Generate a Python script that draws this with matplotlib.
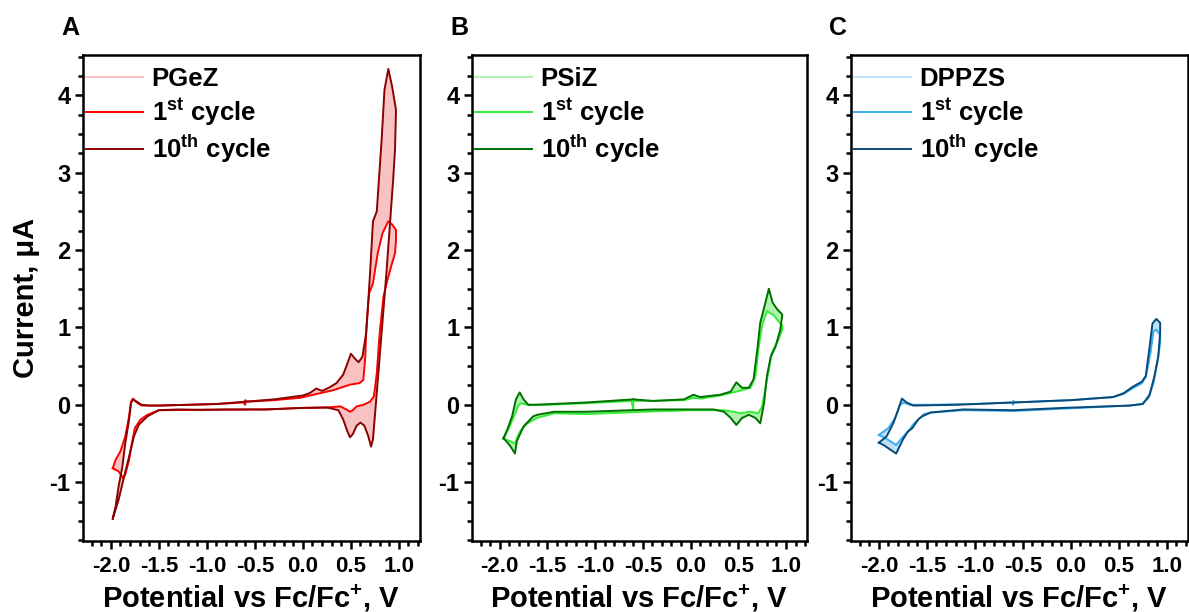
import numpy as np
import matplotlib
matplotlib.use("Agg")
import matplotlib.pyplot as plt
from matplotlib.path import Path
from matplotlib.patches import PathPatch
from matplotlib.lines import Line2D
from matplotlib.ticker import MultipleLocator

plt.rcParams['font.family'] = ['Liberation Sans', 'DejaVu Sans']
plt.rcParams['font.weight'] = 'bold'
plt.rcParams['axes.labelweight'] = 'bold'
plt.rcParams['mathtext.fontset'] = 'custom'
plt.rcParams['mathtext.rm'] = 'Liberation Sans:bold'
plt.rcParams['mathtext.bf'] = 'Liberation Sans:bold'
plt.rcParams['mathtext.it'] = 'Liberation Sans:bold'
plt.rcParams['axes.unicode_minus'] = False

# ---- PGeZ (panel A): loops start at the negative turning point ----
pgez_c1_x = [-1.98, -1.95, -1.90, -1.85, -1.81, -1.79, -1.77, -1.73, -1.68, -1.50, -1.20, -0.90,
             -0.62, -0.60, -0.60, -0.58, -0.30, -0.03, 0.32, 0.49, 0.59, 0.63, 0.65, 0.66, 0.69,
             0.73, 0.78, 0.83, 0.89, 0.93, 0.97,
             0.97, 0.96, 0.92, 0.88, 0.84, 0.80, 0.77, 0.74, 0.70, 0.63, 0.56, 0.52, 0.49, 0.46,
             0.39, 0.25, 0.00, -0.38, -1.07, -1.50, -1.62, -1.69, -1.75, -1.78, -1.81, -1.85,
             -1.87, -1.92, -1.98]
pgez_c1_y = [-0.82, -0.71, -0.60, -0.41, -0.15, 0.04, 0.08, 0.03, -0.01, -0.01, 0.00, 0.01,
             0.03, 0.00, 0.06, 0.04, 0.06, 0.09, 0.19, 0.26, 0.28, 0.32, 0.62, 0.97, 1.44,
             1.57, 1.96, 2.22, 2.37, 2.33, 2.26,
             2.13, 1.96, 1.79, 1.61, 1.40, 0.93, 0.41, 0.11, 0.04, 0.00, -0.02, -0.07, -0.09, -0.065,
             -0.02, -0.035, -0.04, -0.06, -0.065, -0.07, -0.13, -0.19, -0.30, -0.49, -0.71, -0.90,
             -0.95, -0.86, -0.82]
pgez_c10_x = [-1.98, -1.95, -1.92, -1.88, -1.85, -1.81, -1.79, -1.77, -1.73, -1.68, -1.60, -1.50,
              -1.20, -0.90, -0.60, -0.30, 0.00, 0.07, 0.14, 0.20, 0.27, 0.35, 0.42, 0.46, 0.50,
              0.54, 0.58, 0.62, 0.66, 0.70, 0.73, 0.77, 0.82, 0.85, 0.89, 0.93, 0.97,
              0.96, 0.94, 0.92, 0.87, 0.82, 0.77, 0.73, 0.71, 0.68, 0.64, 0.60, 0.56,
              0.52, 0.49, 0.46, 0.42, 0.37, 0.25, 0.00, -0.38, -0.80, -1.07, -1.30, -1.50, -1.62,
              -1.71, -1.76, -1.81, -1.87, -1.92, -1.98]
pgez_c10_y = [-1.47, -1.31, -1.06, -0.80, -0.50, -0.19, 0.02, 0.07, 0.04, 0.00, -0.01, -0.01,
              0.00, 0.01, 0.04, 0.07, 0.12, 0.15, 0.21, 0.18, 0.22, 0.28, 0.39, 0.52, 0.66,
              0.60, 0.55, 0.62, 0.93, 1.70, 2.37, 2.50, 3.42, 4.07, 4.34, 4.11, 3.81,
              3.30, 2.90, 2.56, 1.70, 0.93, 0.16, -0.45, -0.54, -0.40, -0.27, -0.23, -0.27,
              -0.38, -0.42, -0.33, -0.19, -0.07, -0.035, -0.04, -0.06, -0.06, -0.065, -0.06, -0.07, -0.15,
              -0.26, -0.41, -0.67, -0.97, -1.23, -1.47]

# ---- PSiZ (panel B) ----
psiz_c1_x = [-1.96, -1.91, -1.85, -1.81, -1.78, -1.71, -1.50, -1.10, -0.62, -0.60, -0.60, -0.58,
             -0.40, -0.07, 0.03, 0.10, 0.31, 0.48, 0.63, 0.68, 0.71, 0.75, 0.80, 0.87, 0.92, 0.96,
             0.96, 0.92, 0.85, 0.82, 0.78, 0.75, 0.71, 0.63, 0.52, 0.45, 0.35, 0.00, -0.50, -1.09,
             -1.43, -1.61, -1.71, -1.78, -1.82, -1.84, -1.89, -1.96]
psiz_c1_y = [-0.44, -0.32, -0.15, -0.02, 0.02, 0.00, 0.00, 0.02, 0.05, -0.06, 0.08, 0.05,
             0.05, 0.06, 0.09, 0.08, 0.12, 0.17, 0.22, 0.37, 0.71, 1.03, 1.21, 1.16, 1.08, 1.03,
             0.97, 0.84, 0.67, 0.45, 0.19, -0.02, -0.11, -0.09, -0.11, -0.09, -0.07, -0.07, -0.09, -0.12,
             -0.11, -0.17, -0.24, -0.33, -0.43, -0.50, -0.47, -0.44]
psiz_c10_x = [-1.96, -1.92, -1.87, -1.83, -1.79, -1.75, -1.70, -1.63, -1.09, -0.60, -0.39, -0.07,
              0.03, 0.10, 0.31, 0.42, 0.48, 0.54, 0.61, 0.66, 0.70, 0.73, 0.77, 0.82, 0.86, 0.91, 0.96,
              0.96, 0.94, 0.89, 0.84, 0.80, 0.77, 0.73, 0.68, 0.61, 0.54, 0.48, 0.42, 0.35, 0.24,
              -0.39, -1.09, -1.43, -1.61, -1.65, -1.75, -1.82, -1.84, -1.89, -1.96]
psiz_c10_y = [-0.43, -0.32, -0.15, 0.07, 0.16, 0.07, 0.00, 0.00, 0.03, 0.07, 0.05, 0.07,
              0.13, 0.10, 0.13, 0.17, 0.29, 0.22, 0.22, 0.33, 0.72, 1.06, 1.25, 1.50, 1.32, 1.23, 1.17,
              1.15, 0.97, 0.75, 0.62, 0.37, 0.02, -0.24, -0.17, -0.13, -0.17, -0.26, -0.17, -0.09, -0.06,
              -0.06, -0.09, -0.09, -0.13, -0.15, -0.28, -0.47, -0.63, -0.53, -0.43]

# ---- DPPZS (panel C) ----
dppzs_c1_x = [-2.00, -1.90, -1.83, -1.78, -1.74, -1.68, -1.50, -1.00, -0.62, -0.60, -0.60, -0.58,
              0.00, 0.44, 0.55, 0.64, 0.74, 0.78, 0.83, 0.86, 0.89, 0.93,
              0.93, 0.90, 0.86, 0.81, 0.74, 0.61, -0.08, -0.60, -1.12, -1.46, -1.53, -1.64, -1.68,
              -1.76, -1.82, -1.88, -1.95, -2.00]
dppzs_c1_y = [-0.39, -0.30, -0.17, 0.00, 0.03, 0.00, 0.00, 0.01, 0.03, 0.00, 0.05, 0.03,
              0.06, 0.10, 0.14, 0.21, 0.28, 0.36, 0.67, 0.95, 0.97, 0.90,
              0.80, 0.54, 0.28, 0.09, 0.01, -0.01, -0.05, -0.08, -0.07, -0.10, -0.12, -0.25, -0.32,
              -0.43, -0.52, -0.47, -0.42, -0.39]
dppzs_c10_x = [-2.00, -1.92, -1.85, -1.80, -1.76, -1.71, -1.64, -1.20, -0.60, 0.00, 0.44, 0.55,
               0.64, 0.74, 0.78, 0.82, 0.85, 0.89, 0.93,
               0.93, 0.91, 0.87, 0.82, 0.75, 0.61, -0.08, -0.60, -1.12, -1.46, -1.55, -1.59, -1.65,
               -1.70, -1.75, -1.80, -1.82, -1.88, -1.95, -2.00]
dppzs_c10_y = [-0.49, -0.41, -0.24, -0.07, 0.08, 0.03, -0.01, 0.00, 0.03, 0.06, 0.10, 0.15,
               0.23, 0.30, 0.37, 0.75, 1.05, 1.11, 1.06,
               0.93, 0.62, 0.37, 0.13, 0.01, -0.01, -0.04, -0.07, -0.06, -0.10, -0.15, -0.19, -0.30,
               -0.35, -0.45, -0.58, -0.63, -0.58, -0.52, -0.49]

panels = [
    ("A", "PGeZ", pgez_c1_x, pgez_c1_y, pgez_c10_x, pgez_c10_y, "#f9c2c2", "#ff0000", "#8b0000"),
    ("B", "PSiZ", psiz_c1_x, psiz_c1_y, psiz_c10_x, psiz_c10_y, "#b0f2b0", "#33ee33", "#007000"),
    ("C", "DPPZS", dppzs_c1_x, dppzs_c1_y, dppzs_c10_x, dppzs_c10_y, "#bfe1f6", "#3aaef0", "#0b4a78"),
]

W, H = 1189, 612
fig = plt.figure(figsize=(W / 100, H / 100), dpi=100)
lefts = [83, 472, 851]
widths = [337, 335, 337]
top, bottom = 55, 541


def loop_path(x1, y1, x10, y10):
    # band between first and tenth cycle (opposite orientation -> only the gap is filled)
    v10 = np.column_stack([x10, y10])
    v1 = np.column_stack([x1, y1])[::-1]
    verts = np.vstack([v10, v10[:1], v1, v1[:1]])
    codes = ([Path.MOVETO] + [Path.LINETO] * (len(v10) - 1) + [Path.CLOSEPOLY] +
             [Path.MOVETO] + [Path.LINETO] * (len(v1) - 1) + [Path.CLOSEPOLY])
    return Path(verts, codes)


for i, (letter, name, x1, y1, x10, y10, c_light, c1, c10) in enumerate(panels):
    ax = fig.add_axes([lefts[i] / W, (H - bottom) / H, widths[i] / W, (bottom - top) / H])
    ax.add_patch(PathPatch(loop_path(x1, y1, x10, y10), facecolor=c_light,
                           edgecolor=c_light, lw=0.6, zorder=1))
    ax.plot(x1, y1, color=c1, lw=1.4, zorder=3)
    ax.plot(x10, y10, color=c10, lw=1.4, zorder=4)

    ax.set_xlim(-2.29, 1.22)
    ax.set_ylim(-1.76, 4.52)
    ax.xaxis.set_major_locator(MultipleLocator(0.5))
    ax.xaxis.set_minor_locator(MultipleLocator(0.1))
    ax.yaxis.set_major_locator(MultipleLocator(1))
    ax.yaxis.set_minor_locator(MultipleLocator(0.25))
    ax.tick_params(which='both', direction='out', width=1.8, top=False, right=False)
    ax.tick_params(which='major', length=6)
    ax.tick_params(which='minor', length=3.5)
    ax.tick_params(axis='y', labelsize=17, pad=3)
    ax.tick_params(axis='x', labelsize=16, pad=5)
    for s in ax.spines.values():
        s.set_linewidth(1.8)
    ax.set_xlabel("Potential vs Fc/Fc$^{+}$, V", fontsize=21, labelpad=4)
    if i == 0:
        ax.set_ylabel("Current, \u03bcA", fontsize=21, labelpad=7)

    handles = [Line2D([], [], color=c_light, lw=1.4),
               Line2D([], [], color=c1, lw=1.4),
               Line2D([], [], color=c10, lw=1.4)]
    labels = [name, "1$^{st}$ cycle", "10$^{th}$ cycle"]
    ax.legend(handles, labels, loc='upper left', bbox_to_anchor=(0.0, 1.0 - 9 / 486),
              frameon=False, borderaxespad=0.0, borderpad=0.12, handlelength=2.2,
              handletextpad=0.35, labelspacing=0.2, fontsize=18.5)

    fig.text((lefts[i] - 13) / W, 1 - 28 / H, letter, fontsize=18, fontweight='bold',
             ha='center', va='center')

fig.savefig("out.png", dpi=100)
